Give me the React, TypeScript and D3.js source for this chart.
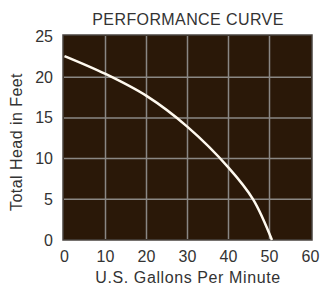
import React from 'react';
import * as d3 from 'd3';

const flow = [0, 10, 20, 30, 40, 46, 50.6];
const head = [22.6, 20.4, 17.7, 13.9, 8.9, 5, 0];
const xTicks = [0, 10, 20, 30, 40, 50, 60];
const yTicks = [0, 5, 10, 15, 20, 25];

export default function App() {
  const width = 321;
  const height = 285;
  const x = d3.scaleLinear().domain([0, 60]).range([64.5, 310.5]);
  const y = d3.scaleLinear().domain([0, 25]).range([240, 36.5]);

  const points = flow.map((f, i) => [f, head[i]] as [number, number]);
  const line = d3.line<[number, number]>()
    .x(d => x(d[0]))
    .y(d => y(d[1]))
    .curve(d3.curveCatmullRom.alpha(0.5));

  const font = '"Liberation Sans", Arial, sans-serif';

  return (
    <svg width={width} height={height} style={{ position: 'absolute', left: 0, top: 0 }}
      fontFamily={font}>
      <rect x={0} y={0} width={width} height={height} fill="#fff" />
      <text x={188} y={25} textAnchor="middle" fontSize={16} letterSpacing={0.4} fill="#333">PERFORMANCE CURVE</text>

      <rect x={63} y={35} width={249} height={205} fill="#2a1808" stroke="#4a4440" strokeWidth={1.5} />

      {xTicks.slice(1, -1).map(t => (
        <line key={'gx' + t} x1={x(t)} x2={x(t)} y1={36} y2={239} stroke="#8a8784" strokeWidth={1.5} />
      ))}
      {yTicks.slice(1, -1).map(t => (
        <line key={'gy' + t} x1={64} x2={311} y1={y(t)} y2={y(t)} stroke="#8a8784" strokeWidth={1.5} />
      ))}

      <path d={line(points) || ''} fill="none" stroke="#fffaf0" strokeWidth={2.5} />

      {xTicks.map(t => (
        <text key={'tx' + t} x={x(t)} y={262} textAnchor="middle" fontSize={16} fill="#333">{t}</text>
      ))}
      {yTicks.map(t => (
        <text key={'ty' + t} x={53} y={y(t) + 5.5} textAnchor="end" fontSize={16} fill="#333">{t}</text>
      ))}

      <text transform={`translate(22,142) rotate(-90)`} textAnchor="middle" fontSize={16} letterSpacing={0.45} fill="#333">Total Head in Feet</text>
      <text x={188} y={283} textAnchor="middle" fontSize={16} letterSpacing={0.6} fill="#333">U.S. Gallons Per Minute</text>
    </svg>
  );
}
